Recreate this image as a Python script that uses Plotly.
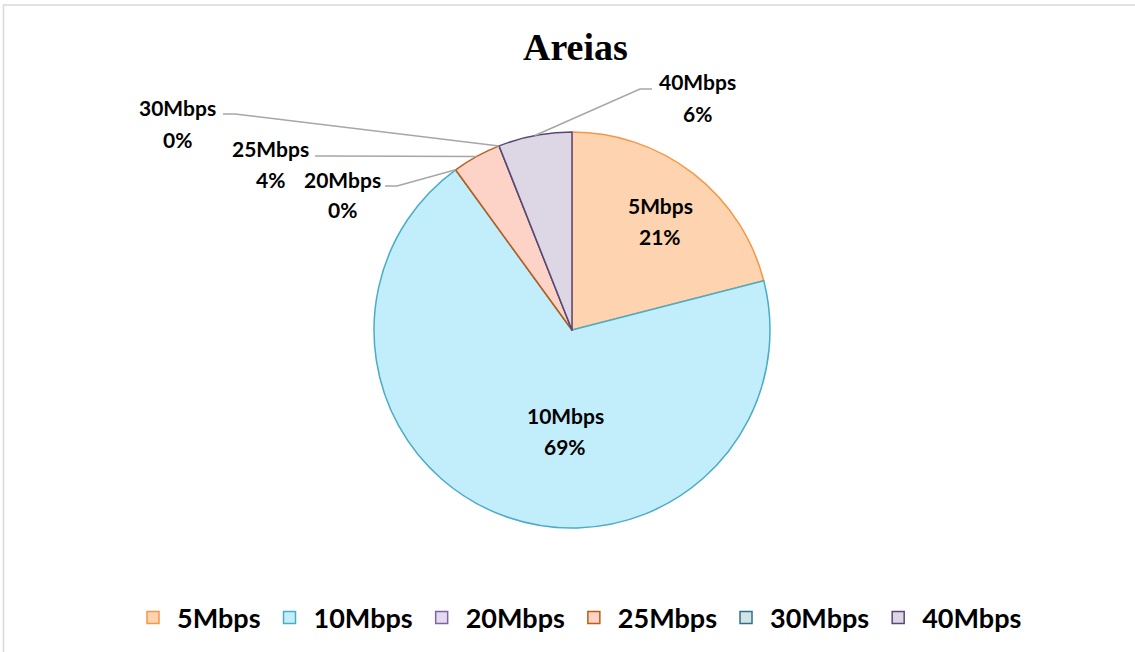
import math
import plotly.graph_objects as go

# ---- data ----
categories = ["5Mbps", "10Mbps", "20Mbps", "25Mbps", "30Mbps", "40Mbps"]
values = [21, 69, 0, 4, 0, 6]
title_text = "Areias"

# ---- style ----
fill_colors = ["#FDD4AF", "#C2EEFB", "#E3D9F0", "#FDD3C8", "#D3E3E8", "#DDD7E5"]
line_colors = ["#F79646", "#4BACC6", "#8064A2", "#B95F14", "#2E7286", "#5A4778"]

W, H = 1135, 652
def px(x):
    return x / W
def py(y):
    return 1 - y / H

CX, CY, R = 572, 330, 198
LABEL_FONT = dict(family="Lato", size=21, color="#000000", weight=700)
LINE_GAP = 31

# text position (center x, first-line y) in pixels for each category label
label_pos = {
    "5Mbps": (660, 205),
    "10Mbps": (565, 415),
    "20Mbps": (342, 179),
    "25Mbps": (270, 148),
    "30Mbps": (178, 108),
    "40Mbps": (697, 82),
}
# leader-line elbows (pixels): text end -> bend, then to slice edge
leader_elbows = {
    "20Mbps": [(385, 186), (397, 186)],
    "25Mbps": [(315, 156), (327, 156)],
    "30Mbps": [(223, 114), (235, 114)],
    "40Mbps": [(652, 89), (640, 89)],
}

fig = go.Figure(
    go.Pie(
        labels=categories,
        values=values,
        sort=False,
        direction="clockwise",
        rotation=0,
        textinfo="none",
        hoverinfo="label+percent",
        marker=dict(colors=fill_colors, line=dict(color=line_colors, width=1.5)),
        domain=dict(x=[px(CX - R), px(CX + R)], y=[py(CY + R), py(CY - R)]),
    )
)

total = sum(values)
annotations = []
shapes = []
cum = 0
for cat, v in zip(categories, values):
    pct = round(v / total * 100)
    mid = (cum + v / 2) / total * 2 * math.pi
    cum += v
    tx, ty = label_pos[cat]
    annotations.append(dict(x=px(tx), y=py(ty), xref="paper", yref="paper", text=cat,
                            showarrow=False, font=LABEL_FONT, xanchor="center", yanchor="middle"))
    annotations.append(dict(x=px(tx), y=py(ty + LINE_GAP), xref="paper", yref="paper", text="%d%%" % pct,
                            showarrow=False, font=LABEL_FONT, xanchor="center", yanchor="middle"))
    if cat in leader_elbows:
        ax = CX + R * math.sin(mid)
        ay = CY - R * math.cos(mid)
        pts = leader_elbows[cat] + [(ax, ay)]
        path = "M %f %f" % (px(pts[0][0]), py(pts[0][1]))
        for p in pts[1:]:
            path += " L %f %f" % (px(p[0]), py(p[1]))
        shapes.append(dict(type="path", xref="paper", yref="paper", path=path,
                           line=dict(color="#A6A6A6", width=1.5)))

annotations.append(dict(x=px(575), y=py(47), xref="paper", yref="paper", text=title_text,
                        showarrow=False,
                        font=dict(family="Liberation Serif", size=38, color="#000000", weight=700),
                        xanchor="center", yanchor="middle"))

# outer border (top and left visible)
shapes.append(dict(type="rect", xref="paper", yref="paper", x0=px(3.5), y0=py(660), x1=px(1145), y1=py(5),
                   line=dict(color="#D9D9D9", width=1.5)))

fig.update_layout(
    width=W,
    height=H,
    margin=dict(l=0, r=0, t=0, b=0),
    paper_bgcolor="white",
    plot_bgcolor="white",
    annotations=annotations,
    shapes=shapes,
    showlegend=True,
    legend=dict(orientation="h", x=px(578), y=py(618), xanchor="center", yanchor="middle",
                font=dict(family="Lato", size=27, color="#000000", weight=700), itemwidth=38,
                bgcolor="rgba(0,0,0,0)"),
)

fig.write_html("out.html", config={"displayModeBar": False},
               post_script="document.body.style.margin='0';")
